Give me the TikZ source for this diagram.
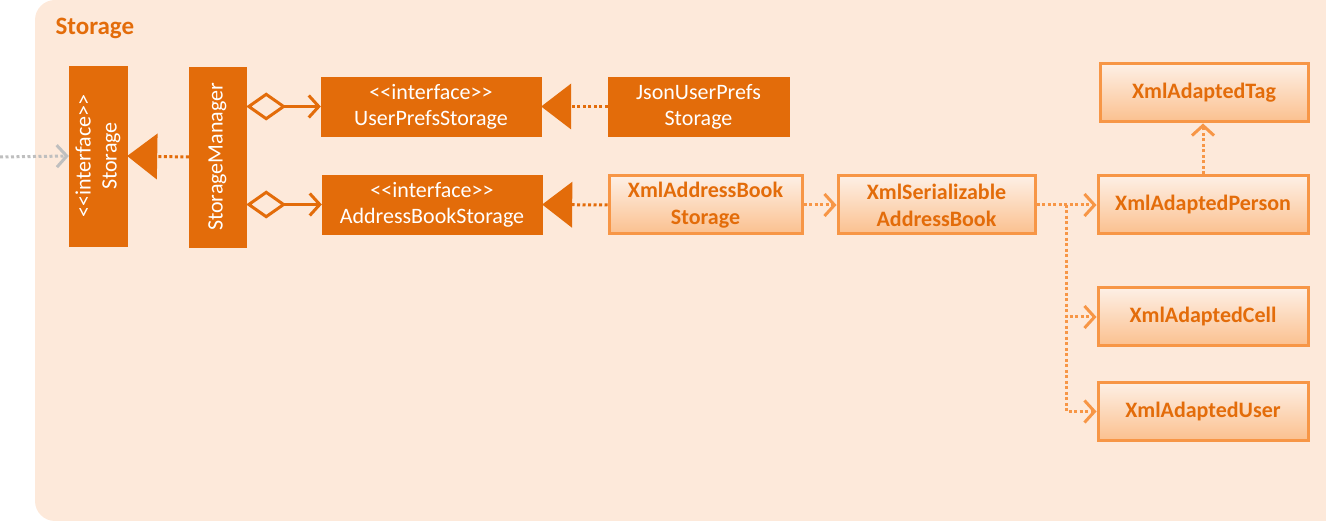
\documentclass[tikz,border=0pt]{standalone}
\usepackage{fontspec}
\setmainfont{Carlito}
\usetikzlibrary{arrows.meta}
\definecolor{bgPeach}{HTML}{FDE9DA}
\definecolor{orangeDark}{HTML}{E36C0A}
\definecolor{orangeLine}{HTML}{F79646}
\definecolor{orangeFade}{HTML}{FBC08E}
\definecolor{greyLink}{HTML}{BFBFBF}
\newcommand{\iface}{<\kern0pt<interface>\kern0pt>}
\begin{document}
\begin{tikzpicture}[
        x=1pt, y=-1pt,
        darkbox/.style={draw=orangeDark, fill=orangeDark, text=white, align=center, inner sep=0pt, font=\fontsize{22}{26}\selectfont},
        lightbox/.style={draw=orangeLine, line width=3pt, top color=bgPeach!70!white, bottom color=orangeFade, text=orangeDark, align=center, inner sep=0pt, font=\fontsize{22}{27}\selectfont\bfseries},
        realize/.style={draw=orangeDark, line width=3pt, dash pattern=on 3pt off 2.5pt, -{Triangle[length=30pt, width=46pt, fill=orangeDark, line width=0pt]}},
        aggr/.style={draw=orangeDark, line width=3pt, {Diamond[open, length=40pt, width=28pt, line width=3pt]}-{Straight Barb[length=10pt, width=22pt, line width=3pt]}},
        depend/.style={draw=orangeLine, line width=3pt, dash pattern=on 3pt off 2.5pt, -{Straight Barb[length=10pt, width=22pt, line width=3pt]}},
        usedby/.style={draw=greyLink, line width=3pt, dash pattern=on 3pt off 2.5pt, -{Straight Barb[length=10pt, width=22pt, line width=3pt]}},
    ]
    \useasboundingbox (0,0) rectangle (1326,521);
    \fill[bgPeach, rounded corners=20pt] (35,0) rectangle (1350,521);
    \node[anchor=west, text=orangeDark, font=\fontsize{25}{30}\selectfont\bfseries] (title) at (52,28) {Storage};

    \node[darkbox, rotate=90, minimum width=180pt, minimum height=58pt] (storage) at (98,156) {\iface\\Storage};
    \node[darkbox, rotate=90, minimum width=180pt, minimum height=57pt] (manager) at (217.5,157) {StorageManager};
    \node[darkbox, minimum width=220pt, minimum height=59pt] (userprefs) at (431,106.5) {\iface\\UserPrefsStorage};
    \node[darkbox, minimum width=181pt, minimum height=59pt] (jsonprefs) at (698.5,106.5) {JsonUserPrefs\\Storage};
    \node[darkbox, minimum width=220pt, minimum height=59pt] (abstorage) at (432,204.5) {\iface\\AddressBookStorage};
    \node[lightbox, minimum width=193pt, minimum height=58pt] (xmlab) at (705.5,205) {XmlAddressBook\\Storage};
    \node[lightbox, minimum width=197pt, minimum height=58pt] (serial) at (936.5,205) {XmlSerializable\\AddressBook};
    \node[lightbox, minimum width=208pt, minimum height=58pt] (tag) at (1204,93) {XmlAdaptedTag};
    \node[lightbox, minimum width=210pt, minimum height=58pt] (person) at (1203,205) {XmlAdaptedPerson};
    \node[lightbox, minimum width=210pt, minimum height=58pt] (cell) at (1203,317) {XmlAdaptedCell};
    \node[lightbox, minimum width=210pt, minimum height=58pt] (user) at (1203,411.5) {XmlAdaptedUser};

    \coordinate (outside) at (0,157);
    \coordinate (fork) at (1066,205);
    \draw[usedby] (outside) -- (storage.north);
    \draw[realize] (manager.north) -- (storage.south);
    \draw[aggr] (manager.south |- userprefs.west) -- (userprefs.west);
    \draw[aggr] (manager.south |- abstorage.west) -- (abstorage.west);
    \draw[realize] (jsonprefs.west) -- (userprefs.east);
    \draw[realize] (xmlab.west) -- (abstorage.east);
    \draw[depend] (xmlab.east) -- (serial.west);
    \draw[depend] (serial.east) -- (person.west);
    \draw[depend] (fork) |- (cell.west);
    \draw[depend] (fork) |- (user.west);
    \draw[depend] (person.north) -- (person.north |- tag.south);
\end{tikzpicture}
\end{document}
